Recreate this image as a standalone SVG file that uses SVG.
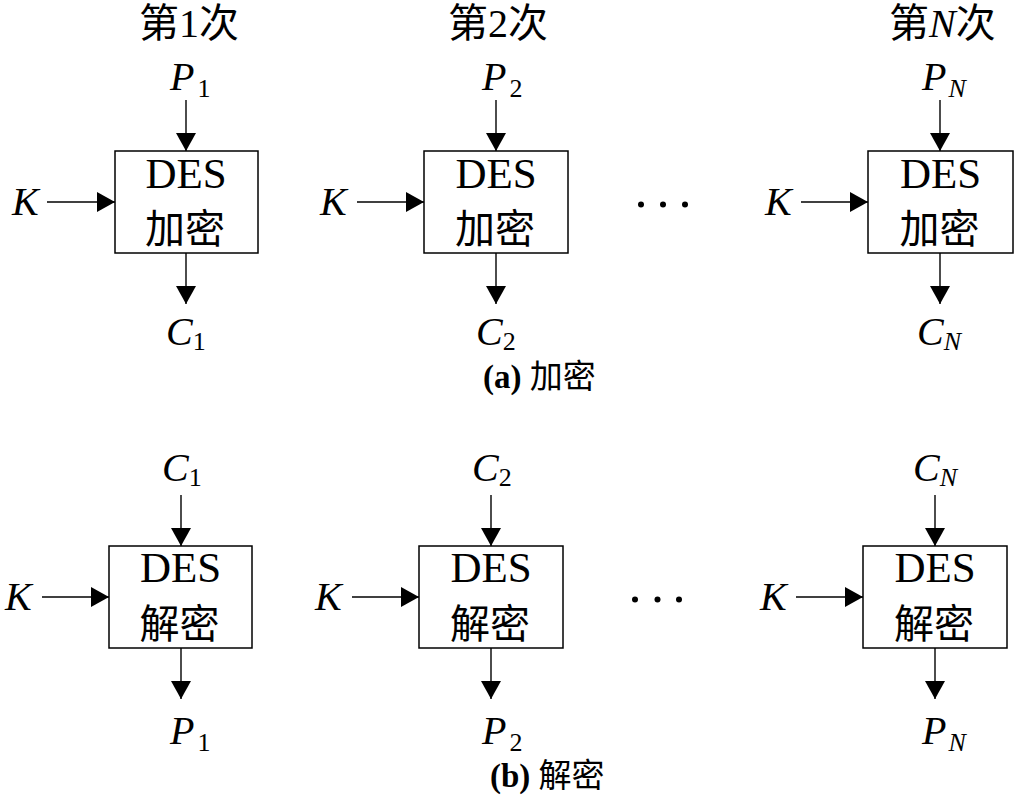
<svg xmlns="http://www.w3.org/2000/svg" width="1020" height="803" viewBox="0 0 1020 803">
<style>
  .box { fill: #ffffff; stroke: #000000; stroke-width: 1.5; }
  .ln { stroke: #000000; stroke-width: 1.4; fill: none; marker-end: url(#ah); }
  .t { font-family: "Liberation Serif", "Noto Sans CJK SC", serif; font-size: 40px; fill: #000000; }
  .des { font-family: "Liberation Serif", serif; font-size: 43px; fill: #000000; }
  .i { font-style: italic; }
  .sub { font-size: 26px; }
  .cjk { font-family: "Liberation Serif", "Noto Sans CJK SC", serif; font-size: 40px; fill: #000000; }
  .cap { font-family: "Liberation Serif", "Noto Sans CJK SC", serif; font-size: 33px; fill: #000000; }
  .dot { fill: #000000; }
</style>
<defs>
  <marker id="ah" markerUnits="userSpaceOnUse" markerWidth="20" markerHeight="20" refX="18" refY="10" orient="auto">
    <path d="M0,0 L18,10 L0,20 Z" fill="#000000"/>
  </marker>
</defs>
<rect width="1020" height="803" fill="#ffffff"/>

<g id="connectors">
  <!-- top row -->
  <line class="ln" x1="186" y1="100" x2="186" y2="151"/>
  <line class="ln" x1="186" y1="253" x2="186" y2="304"/>
  <line class="ln" x1="47" y1="202" x2="115" y2="202"/>
  <line class="ln" x1="496" y1="100" x2="496" y2="151"/>
  <line class="ln" x1="496" y1="253" x2="496" y2="304"/>
  <line class="ln" x1="357" y1="202" x2="424" y2="202"/>
  <line class="ln" x1="940" y1="100" x2="940" y2="151"/>
  <line class="ln" x1="940" y1="253" x2="940" y2="304"/>
  <line class="ln" x1="801" y1="202" x2="868" y2="202"/>
  <!-- bottom row -->
  <line class="ln" x1="181" y1="495" x2="181" y2="546"/>
  <line class="ln" x1="181" y1="648" x2="181" y2="699"/>
  <line class="ln" x1="42" y1="597" x2="109" y2="597"/>
  <line class="ln" x1="491" y1="495" x2="491" y2="546"/>
  <line class="ln" x1="491" y1="648" x2="491" y2="699"/>
  <line class="ln" x1="352" y1="597" x2="419" y2="597"/>
  <line class="ln" x1="935" y1="495" x2="935" y2="546"/>
  <line class="ln" x1="935" y1="648" x2="935" y2="699"/>
  <line class="ln" x1="796" y1="597" x2="863" y2="597"/>
</g>

<g id="headers">
  <text class="t" x="139" y="37">第1次</text>
  <text class="t" x="448" y="37">第2次</text>
  <text class="t" x="889" y="37">第<tspan class="i">N</tspan>次</text>
</g>

<g id="enc1">
  <rect class="box" x="115" y="151" width="143" height="102"/>
  <text class="des" x="186" y="188" text-anchor="middle">DES</text>
  <text class="cjk" x="185" y="243" text-anchor="middle">加密</text>
</g>
<g id="enc2">
  <rect class="box" x="424" y="151" width="144" height="102"/>
  <text class="des" x="496" y="188" text-anchor="middle">DES</text>
  <text class="cjk" x="495" y="243" text-anchor="middle">加密</text>
</g>
<g id="encN">
  <rect class="box" x="868" y="151" width="145" height="102"/>
  <text class="des" x="940.5" y="188" text-anchor="middle">DES</text>
  <text class="cjk" x="939.5" y="243" text-anchor="middle">加密</text>
</g>

<g id="enc-labels">
  <text class="t" x="170" y="90"><tspan class="i">P</tspan><tspan class="sub" dx="3" dy="7">1</tspan></text>
  <text class="t" x="482" y="90"><tspan class="i">P</tspan><tspan class="sub" dx="3" dy="7">2</tspan></text>
  <text class="t" x="922" y="90"><tspan class="i">P</tspan><tspan class="sub i" dx="2" dy="7">N</tspan></text>
  <text class="t i" x="12" y="215">K</text>
  <text class="t i" x="320" y="215">K</text>
  <text class="t i" x="765" y="215">K</text>
  <text class="t" x="166" y="345"><tspan class="i">C</tspan><tspan class="sub" dx="0" dy="5">1</tspan></text>
  <text class="t" x="476" y="345"><tspan class="i">C</tspan><tspan class="sub" dx="0" dy="5">2</tspan></text>
  <text class="t" x="917" y="345"><tspan class="i">C</tspan><tspan class="sub i" dx="0" dy="5">N</tspan></text>
</g>

<g id="dots-top">
  <circle class="dot" cx="641" cy="204.5" r="3"/>
  <circle class="dot" cx="663" cy="204.5" r="3"/>
  <circle class="dot" cx="685" cy="204.5" r="3"/>
</g>

<text id="caption-a" class="cap" x="483" y="388"><tspan font-weight="bold">(a)</tspan> 加密</text>

<g id="dec1">
  <rect class="box" x="109" y="546" width="143" height="102"/>
  <text class="des" x="180.5" y="582" text-anchor="middle">DES</text>
  <text class="cjk" x="179.5" y="638" text-anchor="middle">解密</text>
</g>
<g id="dec2">
  <rect class="box" x="419" y="546" width="144" height="102"/>
  <text class="des" x="491" y="582" text-anchor="middle">DES</text>
  <text class="cjk" x="490" y="638" text-anchor="middle">解密</text>
</g>
<g id="decN">
  <rect class="box" x="863" y="546" width="144" height="102"/>
  <text class="des" x="935" y="582" text-anchor="middle">DES</text>
  <text class="cjk" x="934" y="638" text-anchor="middle">解密</text>
</g>

<g id="dec-labels">
  <text class="t" x="162" y="481"><tspan class="i">C</tspan><tspan class="sub" dx="0" dy="5">1</tspan></text>
  <text class="t" x="472" y="481"><tspan class="i">C</tspan><tspan class="sub" dx="0" dy="5">2</tspan></text>
  <text class="t" x="913" y="481"><tspan class="i">C</tspan><tspan class="sub i" dx="0" dy="5">N</tspan></text>
  <text class="t i" x="5" y="610">K</text>
  <text class="t i" x="315" y="610">K</text>
  <text class="t i" x="760" y="610">K</text>
  <text class="t" x="170" y="744"><tspan class="i">P</tspan><tspan class="sub" dx="3" dy="7">1</tspan></text>
  <text class="t" x="482" y="744"><tspan class="i">P</tspan><tspan class="sub" dx="3" dy="7">2</tspan></text>
  <text class="t" x="922" y="744"><tspan class="i">P</tspan><tspan class="sub i" dx="2" dy="7">N</tspan></text>
</g>

<g id="dots-bottom">
  <circle class="dot" cx="635" cy="599.5" r="3"/>
  <circle class="dot" cx="657.5" cy="599.5" r="3"/>
  <circle class="dot" cx="679" cy="599.5" r="3"/>
</g>

<text id="caption-b" class="cap" x="490" y="787"><tspan font-weight="bold">(b)</tspan> 解密</text>
</svg>
